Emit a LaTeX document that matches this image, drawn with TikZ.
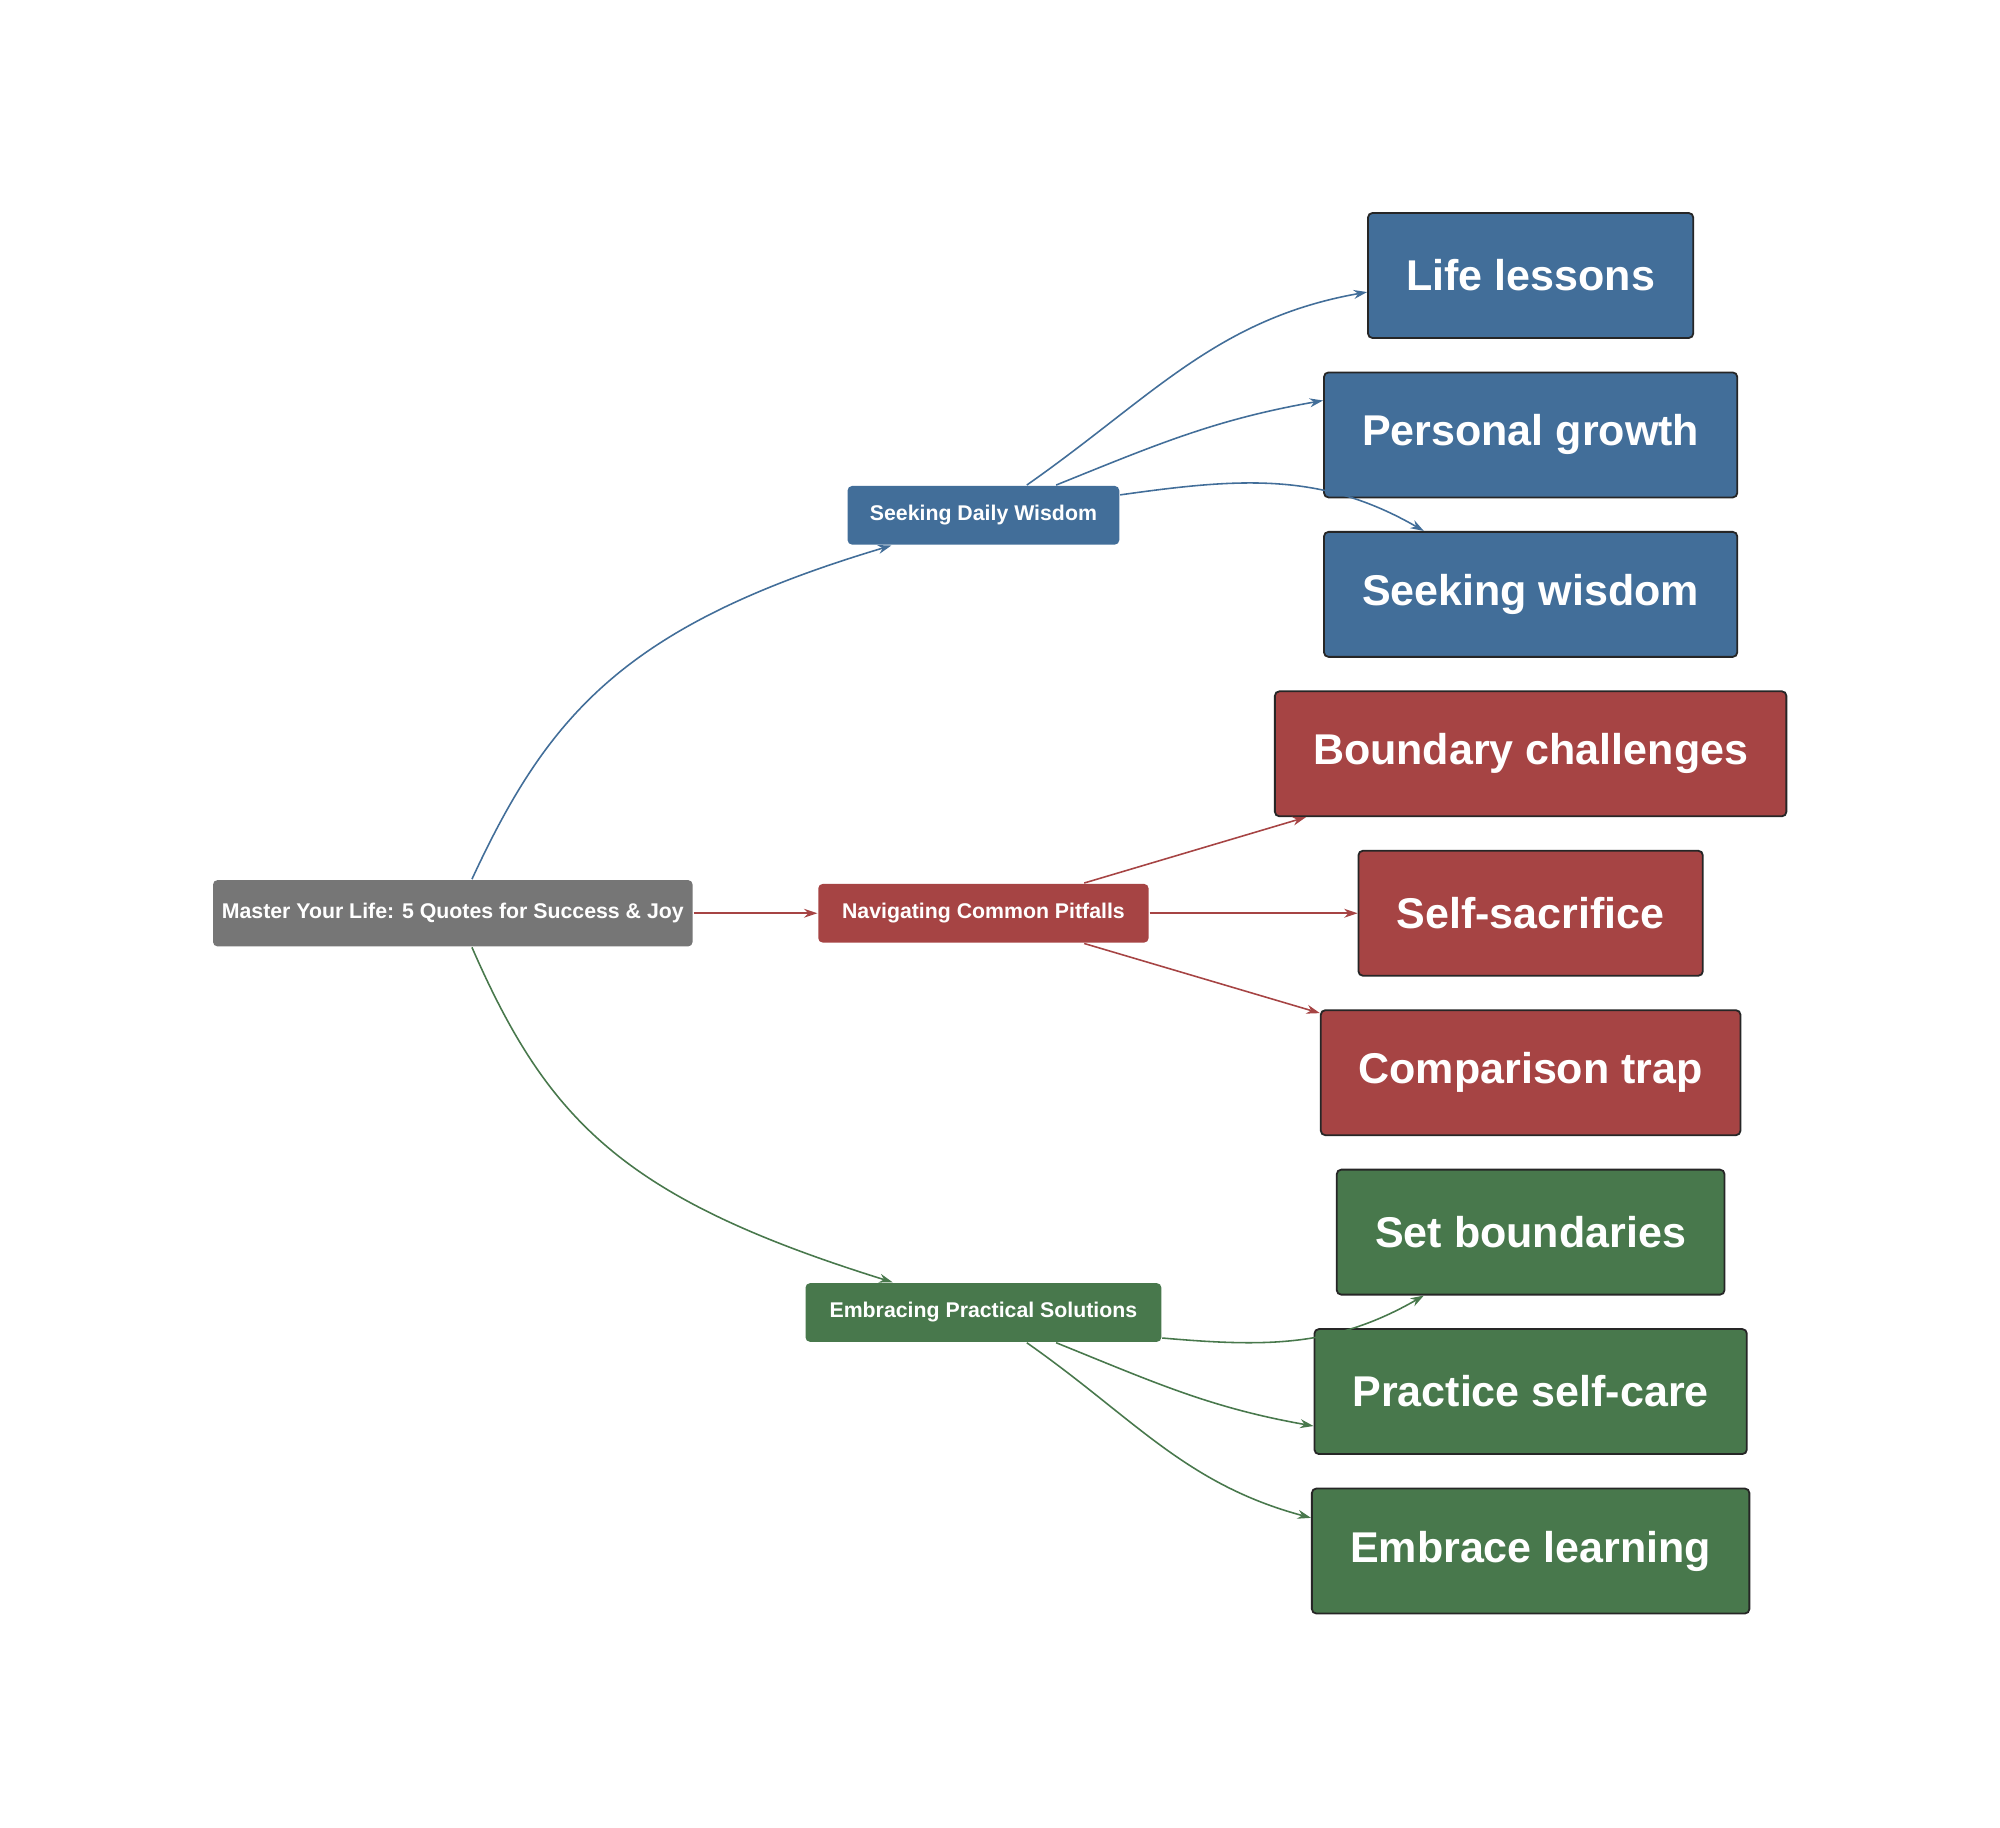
\documentclass[tikz,border=0pt]{standalone}
\usepackage{fontspec}
\setmainfont{Liberation Sans}
\usetikzlibrary{arrows.meta,positioning}
\definecolor{rootgray}{HTML}{767676}
\definecolor{wisblue}{HTML}{426E99}
\definecolor{pitred}{HTML}{A64444}
\definecolor{solgreen}{HTML}{48784C}
\begin{document}
\begin{tikzpicture}[
        >={Stealth[length=3pt,width=2pt]}, % small arrow heads
        every node/.style={text=white, font=\bfseries, rounded corners=1pt, inner sep=0pt},
        hub/.style={minimum height=0.46cm, font=\bfseries\fontsize{4.75}{6}\selectfont},
        leaf/.style={draw=black!85, line width=0.4pt, minimum height=0.98cm, font=\bfseries\fontsize{9.6}{11}\selectfont},
        link/.style={->, line width=0.35pt}
        ]
    \useasboundingbox[fill=white] (0,0) rectangle (15.68,-14.33);

    % root and hubs
    \node[hub, fill=rootgray, minimum width=3.76cm, minimum height=0.52cm] (root) at (3.55,-7.16) {Master Your Life: 5 Quotes for Success \& Joy};
    \node[hub, fill=wisblue, minimum width=2.13cm] (wis) at (7.71,-4.04) {Seeking Daily Wisdom};
    \node[hub, fill=pitred, minimum width=2.59cm] (nav) at (7.71,-7.16) {Navigating Common Pitfalls};
    \node[hub, fill=solgreen, minimum width=2.79cm] (emb) at (7.71,-10.29) {Embracing Practical Solutions};

    % leaves
    \node[leaf, fill=wisblue, minimum width=2.55cm] (life) at (12,-2.16) {Life lessons};
    \node[leaf, fill=wisblue, minimum width=3.24cm] (growth) at (12,-3.41) {Personal growth};
    \node[leaf, fill=wisblue, minimum width=3.24cm] (seek) at (12,-4.66) {Seeking wisdom};
    \node[leaf, fill=pitred, minimum width=4.01cm] (bound) at (12,-5.91) {Boundary challenges};
    \node[leaf, fill=pitred, minimum width=2.70cm] (sacr) at (12,-7.16) {Self-sacrifice};
    \node[leaf, fill=pitred, minimum width=3.29cm] (comp) at (12,-8.41) {Comparison trap};
    \node[leaf, fill=solgreen, minimum width=3.04cm] (setb) at (12,-9.66) {Set boundaries};
    \node[leaf, fill=solgreen, minimum width=3.39cm] (care) at (12,-10.91) {Practice self-care};
    \node[leaf, fill=solgreen, minimum width=3.43cm] (learn) at (12,-12.16) {Embrace learning};

    % connectors
    \draw[link, wisblue] ([xshift=0.15cm]root.north) .. controls (4.3,-5.6) and (4.9,-4.9) .. ([xshift=0.35cm]wis.south west);
    \draw[link, pitred] (root.east) -- (nav.west);
    \draw[link, solgreen] ([xshift=0.15cm]root.south) .. controls (4.3,-8.8) and (4.9,-9.4) .. ([xshift=0.69cm]emb.north west);

    \draw[link, wisblue] ([xshift=0.34cm]wis.north) to[out=35, in=190] ([yshift=-0.13cm]life.west);
    \draw[link, wisblue] ([xshift=0.57cm]wis.north) to[out=22, in=190] ([yshift=0.27cm]growth.west);
    \draw[link, wisblue] ([yshift=0.16cm]wis.east) to[out=8, in=150] ([xshift=0.79cm]seek.north west);

    \draw[link, pitred] ([xshift=0.79cm]nav.north) -- ([xshift=0.25cm]bound.south west);
    \draw[link, pitred] (nav.east) -- (sacr.west);
    \draw[link, pitred] ([xshift=0.79cm]nav.south) -- ([yshift=-0.03cm]comp.north west);

    \draw[link, solgreen] ([yshift=-0.2cm]emb.east) to[out=-5, in=210] ([xshift=0.69cm]setb.south west);
    \draw[link, solgreen] ([xshift=0.57cm]emb.south) to[out=-22, in=170] ([yshift=-0.27cm]care.west);
    \draw[link, solgreen] ([xshift=0.34cm]emb.south) to[out=-35, in=165] ([yshift=0.26cm]learn.west);
\end{tikzpicture}
\end{document}
